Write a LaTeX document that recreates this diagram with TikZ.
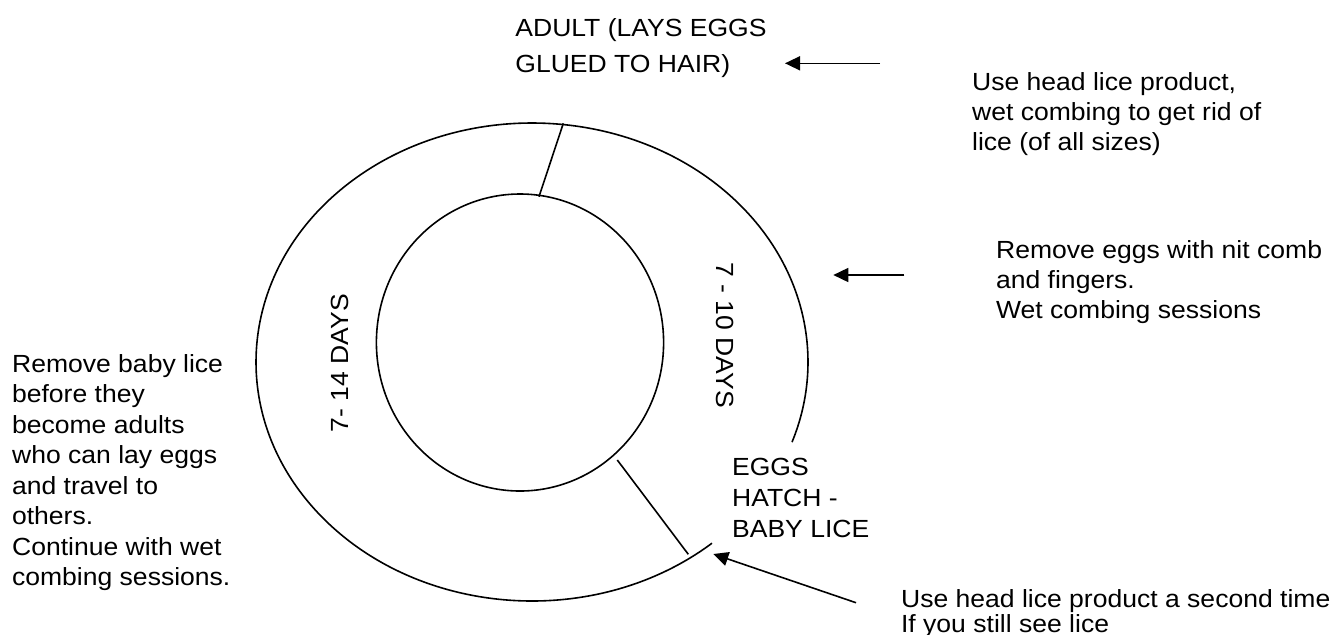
\documentclass[tikz,border=0pt]{standalone}
\usepackage{fontspec}
\setmainfont{Liberation Sans}[FakeStretch=1.07]
\usetikzlibrary{arrows.meta, positioning}

\begin{document}
\begin{tikzpicture}[x=0.5pt, y=-0.5pt,
  every node/.style={inner sep=0pt, align=left},
  note/.style={anchor=north west, font=\fontsize{12.4}{#1}\selectfont},
  note/.default=15,
  days/.style={anchor=center, font=\fontsize{12.4}{15}\selectfont},
  ring/.style={line width=0.8pt},
  pointer/.style={line width=0.8pt, -{Triangle[length=7.5pt, width=7pt]}}]

  \useasboundingbox (0,0) rectangle (1343,634);

  % Rings
  \coordinate (C1) at (532,362);
  \coordinate (C2) at (520,342.5);
  \draw[ring] (C1) ++(49.3:276 and 239) arc[start angle=49.3, end angle=379.6, x radius=276, y radius=239];
  \draw[ring] (C2) ellipse[x radius=143.6, y radius=148.5];

  % Dividers
  \coordinate (D1) at (563.3,123.3);
  \coordinate (D2) at (539,196.7);
  \coordinate (D3) at (617.3,460);
  \coordinate (D4) at (688.3,554.3);
  \draw[ring] (D1) -- (D2);
  \draw[ring] (D3) -- (D4);

  % Stages
  \node[note=17.85] (Adult) at (515,18) {ADULT (LAYS EGGS\\GLUED TO HAIR)};
  \node[note=15.5] (Hatch) at (731.7,458) {EGGS\\HATCH -\\BABY LICE};
  \node[days, rotate=90] (Nymph) at (340,363) {7- 14 DAYS};
  \node[days, rotate=-90] (Egg) at (725,335) {7 - 10 DAYS};

  % Advice
  \node[note] (Treat) at (971.7,72) {Use head lice product,\\wet combing to get rid of\\lice (of all sizes)};
  \node[note] (Nits) at (995.7,240.5) {Remove eggs with nit comb\\and fingers.\\Wet combing sessions};
  \node[note=15.25] (Babies) at (11.7,354) {Remove baby lice\\before they\\become adults\\who can lay eggs\\and travel to\\others.\\Continue with wet\\combing sessions.};
  \node[note=11.35] (Again) at (900.7,589) {Use head lice product a second time\\If you still see lice};

  % Arrows
  \coordinate (T1) at (880,63.3);
  \coordinate (H1) at (785,63.3);
  \coordinate (T2) at (904.3,275);
  \coordinate (H2) at (833.3,275);
  \coordinate (T3) at (856,602.7);
  \coordinate (H3) at (713.3,554);
  \draw[pointer] (T1) -- (H1);
  \draw[pointer] (T2) -- (H2);
  \draw[pointer] (T3) -- (H3);

\end{tikzpicture}
\end{document}
